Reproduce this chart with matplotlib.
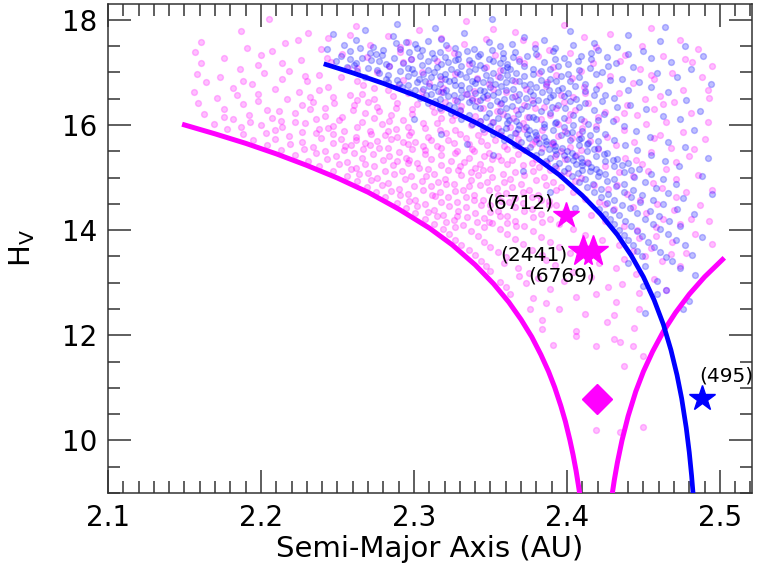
import matplotlib
matplotlib.use("Agg")
import matplotlib.pyplot as plt
from matplotlib.ticker import MultipleLocator


# DATA

# V-shape borders
mag_left_a = [2.150, 2.170, 2.190, 2.210, 2.230, 2.250, 2.270, 2.290, 2.310, 2.325, 2.340, 2.352,
              2.362, 2.370, 2.377, 2.383, 2.388, 2.392, 2.396, 2.399, 2.402, 2.404, 2.406, 2.4075, 2.4085]
mag_left_h = [16.00, 15.83, 15.65, 15.45, 15.23, 14.99, 14.72, 14.40, 14.04, 13.72, 13.34, 12.98,
              12.63, 12.30, 11.97, 11.63, 11.31, 11.01, 10.66, 10.36, 10.00, 9.73, 9.42, 9.15, 8.96]

mag_right_a = [2.4295, 2.431, 2.433, 2.436, 2.440, 2.445, 2.450, 2.456, 2.463, 2.471, 2.480, 2.490, 2.5017]
mag_right_h = [8.96, 9.25, 9.58, 10.00, 10.46, 10.93, 11.31, 11.69, 12.07, 12.43, 12.78, 13.11, 13.44]

blue_a = [2.2425, 2.260, 2.280, 2.300, 2.320, 2.340, 2.360, 2.380, 2.395, 2.410, 2.422, 2.433,
          2.442, 2.450, 2.457, 2.463, 2.468, 2.472, 2.475, 2.478, 2.480, 2.4815, 2.4825]
blue_h = [17.15, 16.99, 16.79, 16.57, 16.33, 16.05, 15.74, 15.37, 15.05, 14.66, 14.30, 13.91,
          13.52, 13.11, 12.67, 12.21, 11.72, 11.24, 10.80, 10.24, 9.77, 9.33, 8.98]

# family members (a [AU], H)
magenta_pts = [
    (2.205, 18.02), (2.334, 17.97), (2.262, 17.88), (2.398, 17.91), (2.455, 17.84), (2.187, 17.79),
    (2.231, 17.74), (2.303, 17.81), (2.366, 17.77), (2.428, 17.72), (2.244, 17.66), (2.283, 17.69),
    (2.347, 17.63), (2.411, 17.68), (2.474, 17.61), (2.161, 17.58), (2.216, 17.55), (2.296, 17.57),
    (2.379, 17.53), (2.449, 17.50), (2.191, 17.47), (2.239, 17.44), (2.271, 17.52), (2.322, 17.46),
    (2.388, 17.42), (2.419, 17.49), (2.486, 17.45),
    (2.157, 17.38), (2.207, 17.41), (2.253, 17.35), (2.291, 17.39), (2.353, 17.33), (2.402, 17.36),
    (2.463, 17.31), (2.176, 17.27), (2.226, 17.24), (2.269, 17.29), (2.315, 17.22), (2.369, 17.26),
    (2.435, 17.21), (2.477, 17.25), (2.161, 17.17), (2.198, 17.14), (2.246, 17.19), (2.284, 17.12),
    (2.336, 17.16), (2.391, 17.11), (2.417, 17.18), (2.495, 17.13), (2.186, 17.06), (2.218, 17.03),
    (2.263, 17.08), (2.305, 17.01), (2.356, 17.05), (2.409, 17.02), (2.448, 17.07), (2.158, 16.97),
    (2.202, 16.99), (2.238, 16.95), (2.276, 17.00), (2.327, 16.96), (2.382, 16.98), (2.428, 16.94),
    (2.469, 16.99),
    (2.173, 16.91), (2.214, 16.88), (2.252, 16.92), (2.293, 16.86), (2.341, 16.90), (2.366, 16.84),
    (2.403, 16.89), (2.457, 16.87), (2.488, 16.92), (2.164, 16.81), (2.194, 16.78), (2.230, 16.83),
    (2.267, 16.76), (2.310, 16.80), (2.349, 16.77), (2.387, 16.82), (2.421, 16.75), (2.443, 16.80),
    (2.182, 16.71), (2.209, 16.68), (2.244, 16.73), (2.283, 16.66), (2.319, 16.70), (2.339, 16.65),
    (2.373, 16.69), (2.411, 16.72), (2.476, 16.67), (2.156, 16.62), (2.198, 16.59), (2.225, 16.63),
    (2.258, 16.57), (2.296, 16.61), (2.334, 16.58), (2.360, 16.63), (2.396, 16.56), (2.434, 16.60),
    (2.461, 16.55), (2.171, 16.52), (2.217, 16.50), (2.247, 16.54), (2.274, 16.49), (2.305, 16.53),
    (2.327, 16.47), (2.348, 16.51), (2.377, 16.48), (2.404, 16.53), (2.451, 16.49), (2.493, 16.52),
    (2.266, 16.59), (2.318, 16.62), (2.289, 16.72),
    (2.159, 16.42), (2.188, 16.39), (2.234, 16.44), (2.261, 16.37), (2.289, 16.41), (2.312, 16.36),
    (2.320, 16.44), (2.356, 16.40), (2.385, 16.35), (2.414, 16.42), (2.439, 16.38), (2.470, 16.43),
    (2.176, 16.31), (2.204, 16.28), (2.242, 16.33), (2.277, 16.26), (2.299, 16.30), (2.330, 16.27),
    (2.345, 16.33), (2.367, 16.29), (2.393, 16.32), (2.425, 16.25), (2.457, 16.30), (2.163, 16.21),
    (2.192, 16.18), (2.222, 16.23), (2.253, 16.16), (2.268, 16.22), (2.285, 16.19), (2.313, 16.24),
    (2.340, 16.17), (2.358, 16.21), (2.374, 16.15), (2.402, 16.20), (2.446, 16.18), (2.481, 16.22),
    (2.182, 16.11), (2.213, 16.08), (2.236, 16.12), (2.266, 16.06), (2.293, 16.10), (2.306, 16.04),
    (2.325, 16.09), (2.351, 16.05), (2.383, 16.11), (2.411, 16.07), (2.432, 16.12), (2.465, 16.05),
    (2.169, 16.02), (2.200, 15.99), (2.229, 16.03), (2.247, 15.98), (2.279, 16.01), (2.337, 16.00),
    (2.363, 15.97), (2.394, 16.02), (2.419, 15.98), (2.452, 16.01), (2.296, 15.96), (2.318, 16.14),
    (2.276, 16.35),
    (2.178, 15.93), (2.209, 15.90), (2.244, 15.94), (2.271, 15.88), (2.288, 15.92), (2.298, 15.86),
    (2.317, 15.91), (2.346, 15.87), (2.372, 15.93), (2.399, 15.88), (2.437, 15.91), (2.476, 15.86),
    (2.188, 15.82), (2.218, 15.79), (2.236, 15.84), (2.262, 15.77), (2.281, 15.81), (2.309, 15.78),
    (2.330, 15.83), (2.357, 15.80), (2.381, 15.76), (2.408, 15.82), (2.426, 15.78), (2.461, 15.81),
    (2.195, 15.71), (2.227, 15.68), (2.252, 15.73), (2.268, 15.66), (2.276, 15.70), (2.301, 15.67),
    (2.322, 15.72), (2.344, 15.69), (2.368, 15.74), (2.390, 15.66), (2.415, 15.70), (2.444, 15.68),
    (2.490, 15.73), (2.204, 15.61), (2.234, 15.58), (2.259, 15.62), (2.283, 15.57), (2.296, 15.63),
    (2.315, 15.59), (2.338, 15.55), (2.359, 15.60), (2.377, 15.64), (2.402, 15.58), (2.432, 15.62),
    (2.468, 15.56), (2.213, 15.52), (2.242, 15.50), (2.267, 15.54), (2.290, 15.49), (2.307, 15.53),
    (2.328, 15.51), (2.349, 15.47), (2.372, 15.52), (2.396, 15.50), (2.420, 15.54), (2.455, 15.49),
    (2.255, 15.60), (2.336, 15.64), (2.285, 15.74), (2.247, 15.83),
    (2.222, 15.43), (2.249, 15.40), (2.273, 15.44), (2.295, 15.38), (2.318, 15.42), (2.336, 15.37),
    (2.355, 15.41), (2.380, 15.36), (2.406, 15.43), (2.438, 15.38), (2.480, 15.41), (2.231, 15.32),
    (2.256, 15.29), (2.280, 15.34), (2.302, 15.27), (2.324, 15.31), (2.343, 15.26), (2.364, 15.33),
    (2.387, 15.28), (2.413, 15.30), (2.449, 15.26), (2.238, 15.22), (2.262, 15.19), (2.286, 15.24),
    (2.309, 15.17), (2.330, 15.21), (2.350, 15.16), (2.371, 15.23), (2.393, 15.18), (2.425, 15.21),
    (2.465, 15.17), (2.247, 15.12), (2.270, 15.09), (2.292, 15.13), (2.313, 15.07), (2.337, 15.11),
    (2.358, 15.06), (2.378, 15.12), (2.401, 15.08), (2.434, 15.10), (2.486, 15.05), (2.256, 15.03),
    (2.276, 14.99), (2.298, 15.02), (2.320, 14.98), (2.342, 15.04), (2.363, 14.97), (2.385, 15.01),
    (2.409, 14.99), (2.443, 15.03), (2.471, 14.98), (2.268, 15.26), (2.297, 15.33), (2.329, 15.14),
    (2.351, 15.35),
    (2.263, 14.93), (2.283, 14.90), (2.305, 14.94), (2.326, 14.88), (2.348, 14.92), (2.370, 14.87),
    (2.391, 14.91), (2.418, 14.86), (2.456, 14.90), (2.269, 14.82), (2.290, 14.79), (2.311, 14.83),
    (2.332, 14.77), (2.354, 14.81), (2.375, 14.76), (2.396, 14.82), (2.427, 14.78), (2.462, 14.80),
    (2.495, 14.77), (2.275, 14.72), (2.296, 14.68), (2.317, 14.73), (2.339, 14.67), (2.360, 14.71),
    (2.381, 14.66), (2.404, 14.72), (2.439, 14.69), (2.478, 14.73), (2.281, 14.62), (2.301, 14.58),
    (2.322, 14.63), (2.345, 14.57), (2.366, 14.61), (2.388, 14.56), (2.412, 14.60), (2.448, 14.58),
    (2.289, 14.52), (2.307, 14.49), (2.328, 14.53), (2.350, 14.47), (2.371, 14.51), (2.393, 14.48),
    (2.421, 14.53), (2.459, 14.50), (2.487, 14.47), (2.314, 14.64), (2.336, 14.84), (2.357, 14.55),
    (2.295, 14.42), (2.313, 14.39), (2.334, 14.43), (2.355, 14.37), (2.377, 14.41), (2.399, 14.36),
    (2.431, 14.40), (2.470, 14.38), (2.301, 14.32), (2.319, 14.29), (2.340, 14.33), (2.361, 14.27),
    (2.383, 14.31), (2.416, 14.28), (2.452, 14.32), (2.307, 14.22), (2.326, 14.19), (2.346, 14.23),
    (2.366, 14.17), (2.389, 14.21), (2.425, 14.18), (2.463, 14.22), (2.493, 14.17), (2.313, 14.12),
    (2.332, 14.09), (2.351, 14.13), (2.372, 14.07), (2.395, 14.11), (2.437, 14.08), (2.474, 14.12),
    (2.319, 14.02), (2.337, 13.99), (2.356, 14.03), (2.378, 13.98), (2.404, 14.02), (2.446, 14.00),
    (2.328, 14.26), (2.349, 14.15),
    (2.323, 13.92), (2.342, 13.88), (2.361, 13.93), (2.383, 13.87), (2.412, 13.91), (2.458, 13.88),
    (2.484, 13.93), (2.327, 13.82), (2.346, 13.78), (2.366, 13.83), (2.389, 13.77), (2.423, 13.81),
    (2.469, 13.78), (2.331, 13.72), (2.350, 13.68), (2.371, 13.73), (2.395, 13.67), (2.434, 13.71),
    (2.455, 13.66), (2.336, 13.62), (2.355, 13.58), (2.377, 13.63), (2.402, 13.57), (2.443, 13.61),
    (2.478, 13.56), (2.340, 13.52), (2.360, 13.48), (2.384, 13.53), (2.413, 13.47), (2.451, 13.51),
    (2.344, 13.42), (2.359, 13.38), (2.386, 13.43), (2.421, 13.37), (2.462, 13.41), (2.347, 13.32),
    (2.368, 13.28), (2.392, 13.33), (2.432, 13.27), (2.474, 13.31), (2.350, 13.22), (2.375, 13.18),
    (2.404, 13.21), (2.445, 13.17), (2.369, 13.12), (2.381, 13.08), (2.416, 13.11), (2.457, 13.07),
    (2.356, 13.02), (2.373, 12.99), (2.398, 13.03), (2.436, 12.98),
    (2.360, 12.91), (2.389, 12.88), (2.427, 12.92), (2.465, 12.87), (2.363, 12.79), (2.419, 12.78),
    (2.447, 12.81), (2.378, 12.71), (2.406, 12.72), (2.432, 12.63), (2.386, 12.62), (2.395, 12.50),
    (2.376, 12.49), (2.447, 12.49), (2.412, 12.40), (2.431, 12.38), (2.384, 12.29), (2.426, 12.25),
    (2.384, 12.11), (2.406, 12.08), (2.444, 12.13), (2.406, 11.98), (2.431, 11.93), (2.435, 11.88),
    (2.391, 11.82), (2.419, 11.79), (2.443, 11.79), (2.450, 11.60), (2.437, 11.41), (2.450, 10.25),
    (2.419, 10.20), (2.435, 10.16),
    # denser clumps
    (2.224, 17.62), (2.258, 17.71), (2.318, 17.66), (2.352, 17.82), (2.291, 17.49), (2.333, 17.54),
    (2.371, 17.61), (2.200, 17.33), (2.243, 17.28), (2.298, 17.26), (2.326, 17.37), (2.381, 17.31),
    (2.214, 17.18), (2.257, 17.09), (2.293, 17.20), (2.347, 17.10), (2.372, 17.17), (2.229, 16.93),
    (2.263, 16.84), (2.318, 16.88), (2.355, 16.93), (2.393, 16.95), (2.188, 16.84), (2.238, 16.66),
    (2.274, 16.70), (2.305, 16.65), (2.352, 16.69), (2.386, 16.74), (2.184, 16.56), (2.232, 16.53),
    (2.263, 16.47), (2.286, 16.55), (2.338, 16.52), (2.366, 16.55), (2.412, 16.60),
    (2.198, 16.46), (2.227, 16.37), (2.248, 16.41), (2.270, 16.44), (2.302, 16.39), (2.331, 16.36),
    (2.341, 16.45), (2.372, 16.38), (2.398, 16.43), (2.212, 16.27), (2.232, 16.30), (2.260, 16.28),
    (2.288, 16.32), (2.318, 16.29), (2.354, 16.26), (2.379, 16.33), (2.405, 16.28), (2.176, 16.16),
    (2.207, 16.14), (2.242, 16.17), (2.274, 16.14), (2.299, 16.20), (2.327, 16.18), (2.365, 16.14),
    (2.389, 16.19), (2.420, 16.15), (2.193, 16.06), (2.222, 16.05), (2.251, 16.09), (2.284, 16.07),
    (2.315, 16.03), (2.343, 16.08), (2.371, 16.04), (2.401, 16.09), (2.187, 15.96), (2.214, 15.97),
    (2.238, 15.92), (2.263, 15.96), (2.283, 15.89), (2.307, 15.95), (2.327, 15.90), (2.355, 15.95),
    (2.384, 15.91), (2.410, 15.95), (2.203, 15.85), (2.227, 15.86), (2.254, 15.88), (2.272, 15.83),
    (2.297, 15.80), (2.321, 15.85), (2.342, 15.80), (2.367, 15.84), (2.394, 15.79), (2.209, 15.74),
    (2.239, 15.76), (2.262, 15.71), (2.289, 15.77), (2.311, 15.71), (2.334, 15.76), (2.353, 15.72),
    (2.379, 15.70), (2.403, 15.75), (2.219, 15.64), (2.247, 15.66), (2.271, 15.61), (2.293, 15.68),
    (2.306, 15.60), (2.326, 15.65), (2.348, 15.62), (2.368, 15.59), (2.391, 15.63), (2.228, 15.55),
    (2.254, 15.53), (2.277, 15.56), (2.299, 15.54), (2.318, 15.56), (2.339, 15.50), (2.361, 15.55),
    (2.384, 15.57), (2.409, 15.52), (2.236, 15.46), (2.261, 15.47), (2.284, 15.41), (2.307, 15.45),
    (2.327, 15.47), (2.346, 15.40), (2.368, 15.45), (2.392, 15.41), (2.243, 15.36), (2.266, 15.37),
    (2.289, 15.31), (2.311, 15.36), (2.333, 15.30), (2.357, 15.33), (2.377, 15.28), (2.399, 15.35),
    (2.251, 15.26), (2.274, 15.21), (2.296, 15.27), (2.318, 15.24), (2.340, 15.19), (2.361, 15.26),
    (2.382, 15.20), (2.259, 15.16), (2.281, 15.13), (2.303, 15.18), (2.322, 15.14), (2.345, 15.15),
    (2.366, 15.10), (2.389, 15.14), (2.264, 15.06), (2.287, 15.07), (2.308, 15.03), (2.331, 15.05),
    (2.351, 15.01), (2.372, 15.05), (2.396, 15.04),
    (2.272, 14.95), (2.294, 14.97), (2.316, 14.92), (2.337, 14.96), (2.359, 14.91), (2.380, 14.95),
    (2.405, 14.93), (2.279, 14.86), (2.300, 14.84), (2.321, 14.87), (2.343, 14.85), (2.364, 14.82),
    (2.386, 14.86), (2.285, 14.75), (2.306, 14.77), (2.327, 14.74), (2.349, 14.76), (2.371, 14.72),
    (2.393, 14.77), (2.291, 14.66), (2.312, 14.67), (2.334, 14.62), (2.355, 14.66), (2.377, 14.63),
    (2.297, 14.56), (2.318, 14.54), (2.339, 14.57), (2.362, 14.53), (2.383, 14.58), (2.302, 14.46),
    (2.323, 14.45), (2.344, 14.48), (2.366, 14.44), (2.388, 14.47), (2.309, 14.35), (2.329, 14.37),
    (2.350, 14.34), (2.372, 14.36), (2.315, 14.26), (2.335, 14.24), (2.356, 14.27), (2.378, 14.25),
    (2.321, 14.15), (2.341, 14.16), (2.361, 14.13), (2.384, 14.16), (2.327, 14.06), (2.346, 14.05),
    (2.367, 14.07),
    (2.438, 17.33), (2.482, 17.19), (2.455, 16.95), (2.492, 16.66), (2.463, 16.40), (2.437, 16.22),
    (2.492, 16.05), (2.457, 15.75), (2.483, 15.55), (2.445, 15.33), (2.471, 15.29), (2.453, 15.12),
    (2.433, 14.85), (2.471, 14.62), (2.443, 14.43), (2.481, 14.21), (2.458, 14.05), (2.425, 14.50),
    (2.447, 13.85), (2.468, 13.55), (2.495, 13.73), (2.437, 13.45),
]

blue_pts = [
    (2.351, 18.01), (2.289, 17.92), (2.464, 17.87), (2.268, 17.81), (2.314, 17.84), (2.402, 17.78),
    (2.247, 17.72), (2.286, 17.69), (2.333, 17.74), (2.372, 17.67), (2.440, 17.71), (2.262, 17.62),
    (2.295, 17.58), (2.318, 17.64), (2.349, 17.57), (2.385, 17.61), (2.418, 17.56), (2.461, 17.59),
    (2.254, 17.52), (2.273, 17.48), (2.301, 17.53), (2.327, 17.47), (2.356, 17.51), (2.379, 17.46),
    (2.404, 17.52), (2.433, 17.48), (2.477, 17.50), (2.243, 17.44), (2.309, 17.60),
    (2.258, 17.41), (2.271, 17.37), (2.280, 17.43), (2.297, 17.38), (2.305, 17.42), (2.312, 17.36),
    (2.335, 17.40), (2.343, 17.35), (2.351, 17.43), (2.366, 17.39), (2.391, 17.41), (2.416, 17.37),
    (2.450, 17.40), (2.252, 17.31), (2.266, 17.28), (2.279, 17.33), (2.287, 17.27), (2.304, 17.32),
    (2.320, 17.29), (2.329, 17.26), (2.342, 17.31), (2.358, 17.27), (2.374, 17.32), (2.398, 17.28),
    (2.426, 17.30), (2.455, 17.27), (2.489, 17.31), (2.249, 17.21), (2.262, 17.18), (2.277, 17.22),
    (2.293, 17.17), (2.309, 17.21), (2.318, 17.16), (2.327, 17.23), (2.338, 17.18), (2.352, 17.21),
    (2.361, 17.16), (2.369, 17.22), (2.385, 17.19), (2.407, 17.21), (2.432, 17.17), (2.468, 17.20),
    (2.256, 17.11), (2.270, 17.08), (2.284, 17.12), (2.299, 17.07), (2.315, 17.11), (2.324, 17.06),
    (2.331, 17.12), (2.346, 17.08), (2.361, 17.11), (2.378, 17.07), (2.394, 17.12), (2.415, 17.08),
    (2.443, 17.10), (2.481, 17.07), (2.263, 17.02), (2.277, 16.98), (2.291, 17.03), (2.306, 16.97),
    (2.313, 17.01), (2.320, 16.96), (2.336, 17.02), (2.352, 16.98), (2.358, 17.04), (2.367, 16.99),
    (2.383, 17.03), (2.401, 16.97), (2.423, 17.01), (2.459, 16.98),
    (2.268, 16.92), (2.282, 16.88), (2.296, 16.93), (2.303, 16.87), (2.311, 16.91), (2.326, 16.86),
    (2.334, 16.92), (2.341, 16.88), (2.356, 16.91), (2.364, 16.86), (2.372, 16.93), (2.389, 16.88),
    (2.408, 16.92), (2.436, 16.87), (2.472, 16.91), (2.283, 16.82), (2.290, 16.77), (2.302, 16.81),
    (2.317, 16.78), (2.323, 16.83), (2.331, 16.76), (2.345, 16.82), (2.353, 16.77), (2.360, 16.81),
    (2.376, 16.78), (2.393, 16.83), (2.412, 16.77), (2.447, 16.81), (2.494, 16.78), (2.292, 16.72),
    (2.306, 16.68), (2.313, 16.73), (2.321, 16.67), (2.336, 16.71), (2.343, 16.66), (2.350, 16.72),
    (2.365, 16.68), (2.380, 16.73), (2.388, 16.67), (2.397, 16.71), (2.419, 16.68), (2.455, 16.72),
    (2.297, 16.62), (2.311, 16.58), (2.319, 16.63), (2.326, 16.57), (2.340, 16.61), (2.348, 16.56),
    (2.355, 16.62), (2.369, 16.58), (2.384, 16.63), (2.391, 16.57), (2.401, 16.61), (2.425, 16.57),
    (2.466, 16.62), (2.304, 16.52), (2.317, 16.49), (2.331, 16.53), (2.338, 16.48), (2.345, 16.54),
    (2.359, 16.50), (2.373, 16.52), (2.381, 16.47), (2.389, 16.53), (2.406, 16.49), (2.431, 16.52),
    (2.478, 16.48),
    (2.309, 16.42), (2.323, 16.38), (2.336, 16.43), (2.350, 16.37), (2.357, 16.41), (2.364, 16.36),
    (2.378, 16.42), (2.394, 16.38), (2.412, 16.41), (2.441, 16.37), (2.317, 16.32), (2.330, 16.28),
    (2.343, 16.33), (2.356, 16.27), (2.370, 16.31), (2.383, 16.26), (2.399, 16.32), (2.418, 16.28),
    (2.452, 16.31), (2.487, 16.27), (2.324, 16.22), (2.336, 16.18), (2.349, 16.23), (2.361, 16.17),
    (2.368, 16.21), (2.375, 16.16), (2.389, 16.22), (2.404, 16.18), (2.424, 16.21), (2.463, 16.17),
    (2.331, 16.12), (2.343, 16.08), (2.355, 16.13), (2.367, 16.07), (2.380, 16.11), (2.393, 16.06),
    (2.409, 16.12), (2.430, 16.08), (2.474, 16.11), (2.338, 16.02), (2.350, 15.98), (2.361, 16.03),
    (2.373, 15.97), (2.385, 16.01), (2.398, 15.96), (2.414, 16.02), (2.437, 15.98),
    (2.300, 16.12), (2.318, 15.82), (2.335, 15.63), (2.352, 15.42), (2.371, 15.12), (2.389, 14.72),
    (2.405, 14.42),
    (2.345, 15.92), (2.357, 15.88), (2.368, 15.93), (2.379, 15.87), (2.391, 15.91), (2.403, 15.86),
    (2.419, 15.92), (2.445, 15.88), (2.483, 15.91), (2.352, 15.82), (2.363, 15.78), (2.374, 15.83),
    (2.385, 15.77), (2.396, 15.81), (2.409, 15.76), (2.425, 15.82), (2.454, 15.78), (2.359, 15.72),
    (2.370, 15.68), (2.380, 15.73), (2.391, 15.67), (2.402, 15.71), (2.414, 15.66), (2.431, 15.72),
    (2.466, 15.68), (2.366, 15.62), (2.376, 15.58), (2.386, 15.63), (2.397, 15.57), (2.408, 15.61),
    (2.420, 15.56), (2.438, 15.62), (2.477, 15.58), (2.373, 15.52), (2.383, 15.48), (2.392, 15.53),
    (2.403, 15.47), (2.413, 15.51), (2.426, 15.47), (2.446, 15.52),
    (2.380, 15.42), (2.389, 15.38), (2.398, 15.43), (2.409, 15.37), (2.419, 15.41), (2.433, 15.36),
    (2.455, 15.42), (2.492, 15.38), (2.386, 15.32), (2.395, 15.28), (2.404, 15.33), (2.414, 15.27),
    (2.425, 15.31), (2.440, 15.27), (2.464, 15.32), (2.392, 15.22), (2.401, 15.18), (2.410, 15.23),
    (2.419, 15.17), (2.431, 15.21), (2.447, 15.17), (2.473, 15.21), (2.398, 15.12), (2.407, 15.08),
    (2.415, 15.13), (2.425, 15.07), (2.437, 15.11), (2.455, 15.07), (2.403, 15.02), (2.412, 14.98),
    (2.420, 15.03), (2.431, 14.97), (2.444, 15.01), (2.463, 14.98), (2.488, 15.02),
    (2.408, 14.92), (2.417, 14.88), (2.426, 14.93), (2.437, 14.87), (2.451, 14.91), (2.471, 14.88),
    (2.413, 14.82), (2.422, 14.78), (2.432, 14.83), (2.443, 14.77), (2.458, 14.81), (2.418, 14.72),
    (2.427, 14.68), (2.437, 14.73), (2.449, 14.67), (2.466, 14.71), (2.495, 14.68), (2.422, 14.62),
    (2.431, 14.58), (2.442, 14.63), (2.456, 14.57), (2.476, 14.61), (2.426, 14.52), (2.436, 14.48),
    (2.448, 14.53), (2.463, 14.49),
    (2.421, 14.41), (2.430, 14.38), (2.441, 14.42), (2.454, 14.37), (2.472, 14.41), (2.425, 14.31),
    (2.434, 14.28), (2.446, 14.32), (2.460, 14.27), (2.483, 14.31), (2.428, 14.21), (2.438, 14.18),
    (2.451, 14.22), (2.467, 14.17), (2.431, 14.11), (2.442, 14.08), (2.456, 14.12), (2.474, 14.08),
    (2.434, 14.01), (2.446, 13.98), (2.461, 14.02),
    (2.437, 13.91), (2.449, 13.88), (2.466, 13.92), (2.488, 13.87), (2.440, 13.81), (2.453, 13.78),
    (2.471, 13.82), (2.443, 13.72), (2.457, 13.67), (2.477, 13.71), (2.446, 13.61), (2.461, 13.58),
    (2.449, 13.51), (2.465, 13.48), (2.482, 13.52), (2.440, 13.38), (2.469, 13.41), (2.451, 13.32),
    (2.474, 13.28), (2.484, 13.14), (2.459, 13.03), (2.450, 12.93), (2.465, 12.87), (2.459, 12.78),
    (2.480, 12.65), (2.476, 12.50), (2.451, 12.43),
    # denser core
    (2.265, 17.47), (2.288, 17.55), (2.302, 17.46), (2.321, 17.52), (2.339, 17.45), (2.364, 17.54),
    (2.392, 17.47), (2.420, 17.43), (2.275, 17.35), (2.291, 17.44), (2.317, 17.39), (2.329, 17.34),
    (2.358, 17.37), (2.380, 17.34), (2.409, 17.32), (2.440, 17.34), (2.258, 17.25), (2.272, 17.24),
    (2.298, 17.25), (2.313, 17.27), (2.336, 17.24), (2.349, 17.26), (2.365, 17.29), (2.392, 17.25),
    (2.416, 17.25), (2.261, 17.14), (2.282, 17.15), (2.305, 17.14), (2.322, 17.19), (2.343, 17.14),
    (2.356, 17.17), (2.372, 17.13), (2.401, 17.15), (2.427, 17.12), (2.276, 17.05), (2.296, 17.08),
    (2.309, 17.05), (2.328, 17.01), (2.340, 17.06), (2.363, 17.06), (2.389, 17.07), (2.408, 17.05),
    (2.283, 16.95), (2.300, 16.99), (2.317, 16.94), (2.330, 16.97), (2.347, 16.95), (2.361, 16.95),
    (2.378, 16.96), (2.396, 16.93), (2.419, 16.96), (2.289, 16.86), (2.307, 16.84), (2.320, 16.88),
    (2.338, 16.84), (2.350, 16.86), (2.369, 16.83), (2.383, 16.86), (2.402, 16.84), (2.428, 16.85),
    (2.296, 16.76), (2.310, 16.74), (2.327, 16.76), (2.340, 16.79), (2.357, 16.74), (2.372, 16.76),
    (2.386, 16.78), (2.405, 16.74), (2.301, 16.66), (2.316, 16.65), (2.331, 16.67), (2.346, 16.64),
    (2.360, 16.66), (2.376, 16.64), (2.394, 16.66), (2.412, 16.64), (2.440, 16.66), (2.308, 16.56),
    (2.322, 16.55), (2.335, 16.58), (2.352, 16.57), (2.364, 16.54), (2.378, 16.56), (2.398, 16.55),
    (2.418, 16.56), (2.314, 16.46), (2.328, 16.45), (2.343, 16.47), (2.354, 16.45), (2.368, 16.48),
    (2.386, 16.45), (2.402, 16.46), (2.423, 16.45), (2.326, 16.34), (2.340, 16.36), (2.360, 16.33),
    (2.374, 16.36), (2.390, 16.34), (2.408, 16.35), (2.433, 16.34),
    (2.347, 16.15), (2.362, 16.10), (2.378, 16.15), (2.398, 16.14), (2.420, 16.10), (2.352, 16.05),
    (2.369, 16.00), (2.392, 16.03), (2.404, 15.99), (2.360, 15.95), (2.375, 15.90), (2.385, 15.96),
    (2.410, 15.89), (2.366, 15.85), (2.380, 15.80), (2.400, 15.84), (2.415, 15.80), (2.375, 15.75),
    (2.386, 15.70), (2.408, 15.74), (2.420, 15.69), (2.382, 15.65), (2.392, 15.60), (2.413, 15.64),
    (2.388, 15.55), (2.400, 15.50), (2.418, 15.55), (2.393, 15.45), (2.405, 15.40), (2.424, 15.44),
    (2.400, 15.35), (2.410, 15.30), (2.430, 15.34), (2.406, 15.25), (2.416, 15.20), (2.436, 15.24),
    (2.410, 15.15), (2.421, 15.10), (2.442, 15.14),
]

# highlighted bodies
star_names = ["(6712)", "(2441)", "(6769)"]
star_a = [2.3997, 2.4102, 2.4172]
star_h = [14.28, 13.60, 13.60]
parent_a, parent_h = 2.4194, 10.79          # diamond
eunomia_a, eunomia_h = 2.4880, 10.81         # (495), blue star

MAGENTA = "#ff00ff"
BLUE = "#0000ff"

mag_x, mag_y = zip(*magenta_pts)
blu_x, blu_y = zip(*blue_pts)


# FIGURE

fig = plt.figure(figsize=(7.58, 5.71), dpi=100)
ax = fig.add_axes([0.1425, 0.1366, 0.8496, 0.8564])

ax.scatter(mag_x, mag_y, s=18, color=MAGENTA, alpha=0.25, linewidths=1.0, zorder=2)
ax.scatter(blu_x, blu_y, s=18, color=BLUE, alpha=0.25, linewidths=1.0, zorder=2)

ax.plot(mag_left_a, mag_left_h, color=MAGENTA, lw=3.6, zorder=3)
ax.plot(mag_right_a, mag_right_h, color=MAGENTA, lw=3.6, zorder=3)
ax.plot(blue_a, blue_h, color=BLUE, lw=3.4, zorder=3)

ax.plot(star_a[0], star_h[0], marker="*", ms=19, color=MAGENTA, ls="none", zorder=4)
ax.plot(star_a[1:], star_h[1:], marker="*", ms=23, color=MAGENTA, ls="none", zorder=4)
ax.plot(parent_a, parent_h, marker="D", ms=15, color=MAGENTA, ls="none", zorder=4)
ax.plot(eunomia_a, eunomia_h, marker="*", ms=19, color=BLUE, ls="none", zorder=4)

ax.text(2.3908, 14.52, star_names[0], fontsize=14.5, ha="right", va="center")
ax.text(2.4007, 13.52, star_names[1], fontsize=14.5, ha="right", va="center")
ax.text(2.3965, 13.12, star_names[2], fontsize=14.5, ha="center", va="center")
ax.text(2.4863, 11.22, "(495)", fontsize=14.5, ha="left", va="center")

ax.set_xlim(2.1, 2.521)
ax.set_ylim(9.0, 18.3)
ax.xaxis.set_major_locator(MultipleLocator(0.1))
ax.xaxis.set_minor_locator(MultipleLocator(0.01))
ax.yaxis.set_major_locator(MultipleLocator(2))
ax.yaxis.set_minor_locator(MultipleLocator(0.5))
ax.tick_params(which="both", direction="in", top=True, right=True, width=1.1, colors="#333333", labelcolor="black")
ax.tick_params(which="major", length=16.5, labelsize=20, pad=8)
ax.tick_params(which="minor", length=8.5)
for sp in ax.spines.values():
    sp.set_linewidth(1.1)
    sp.set_color("#333333")

ax.set_xlabel("Semi-Major Axis (AU)", fontsize=21, labelpad=2)
ax.set_ylabel("H$_{\\rm V}$", fontsize=21, labelpad=18)

fig.savefig("out.png", dpi=100)
plt.close(fig)
